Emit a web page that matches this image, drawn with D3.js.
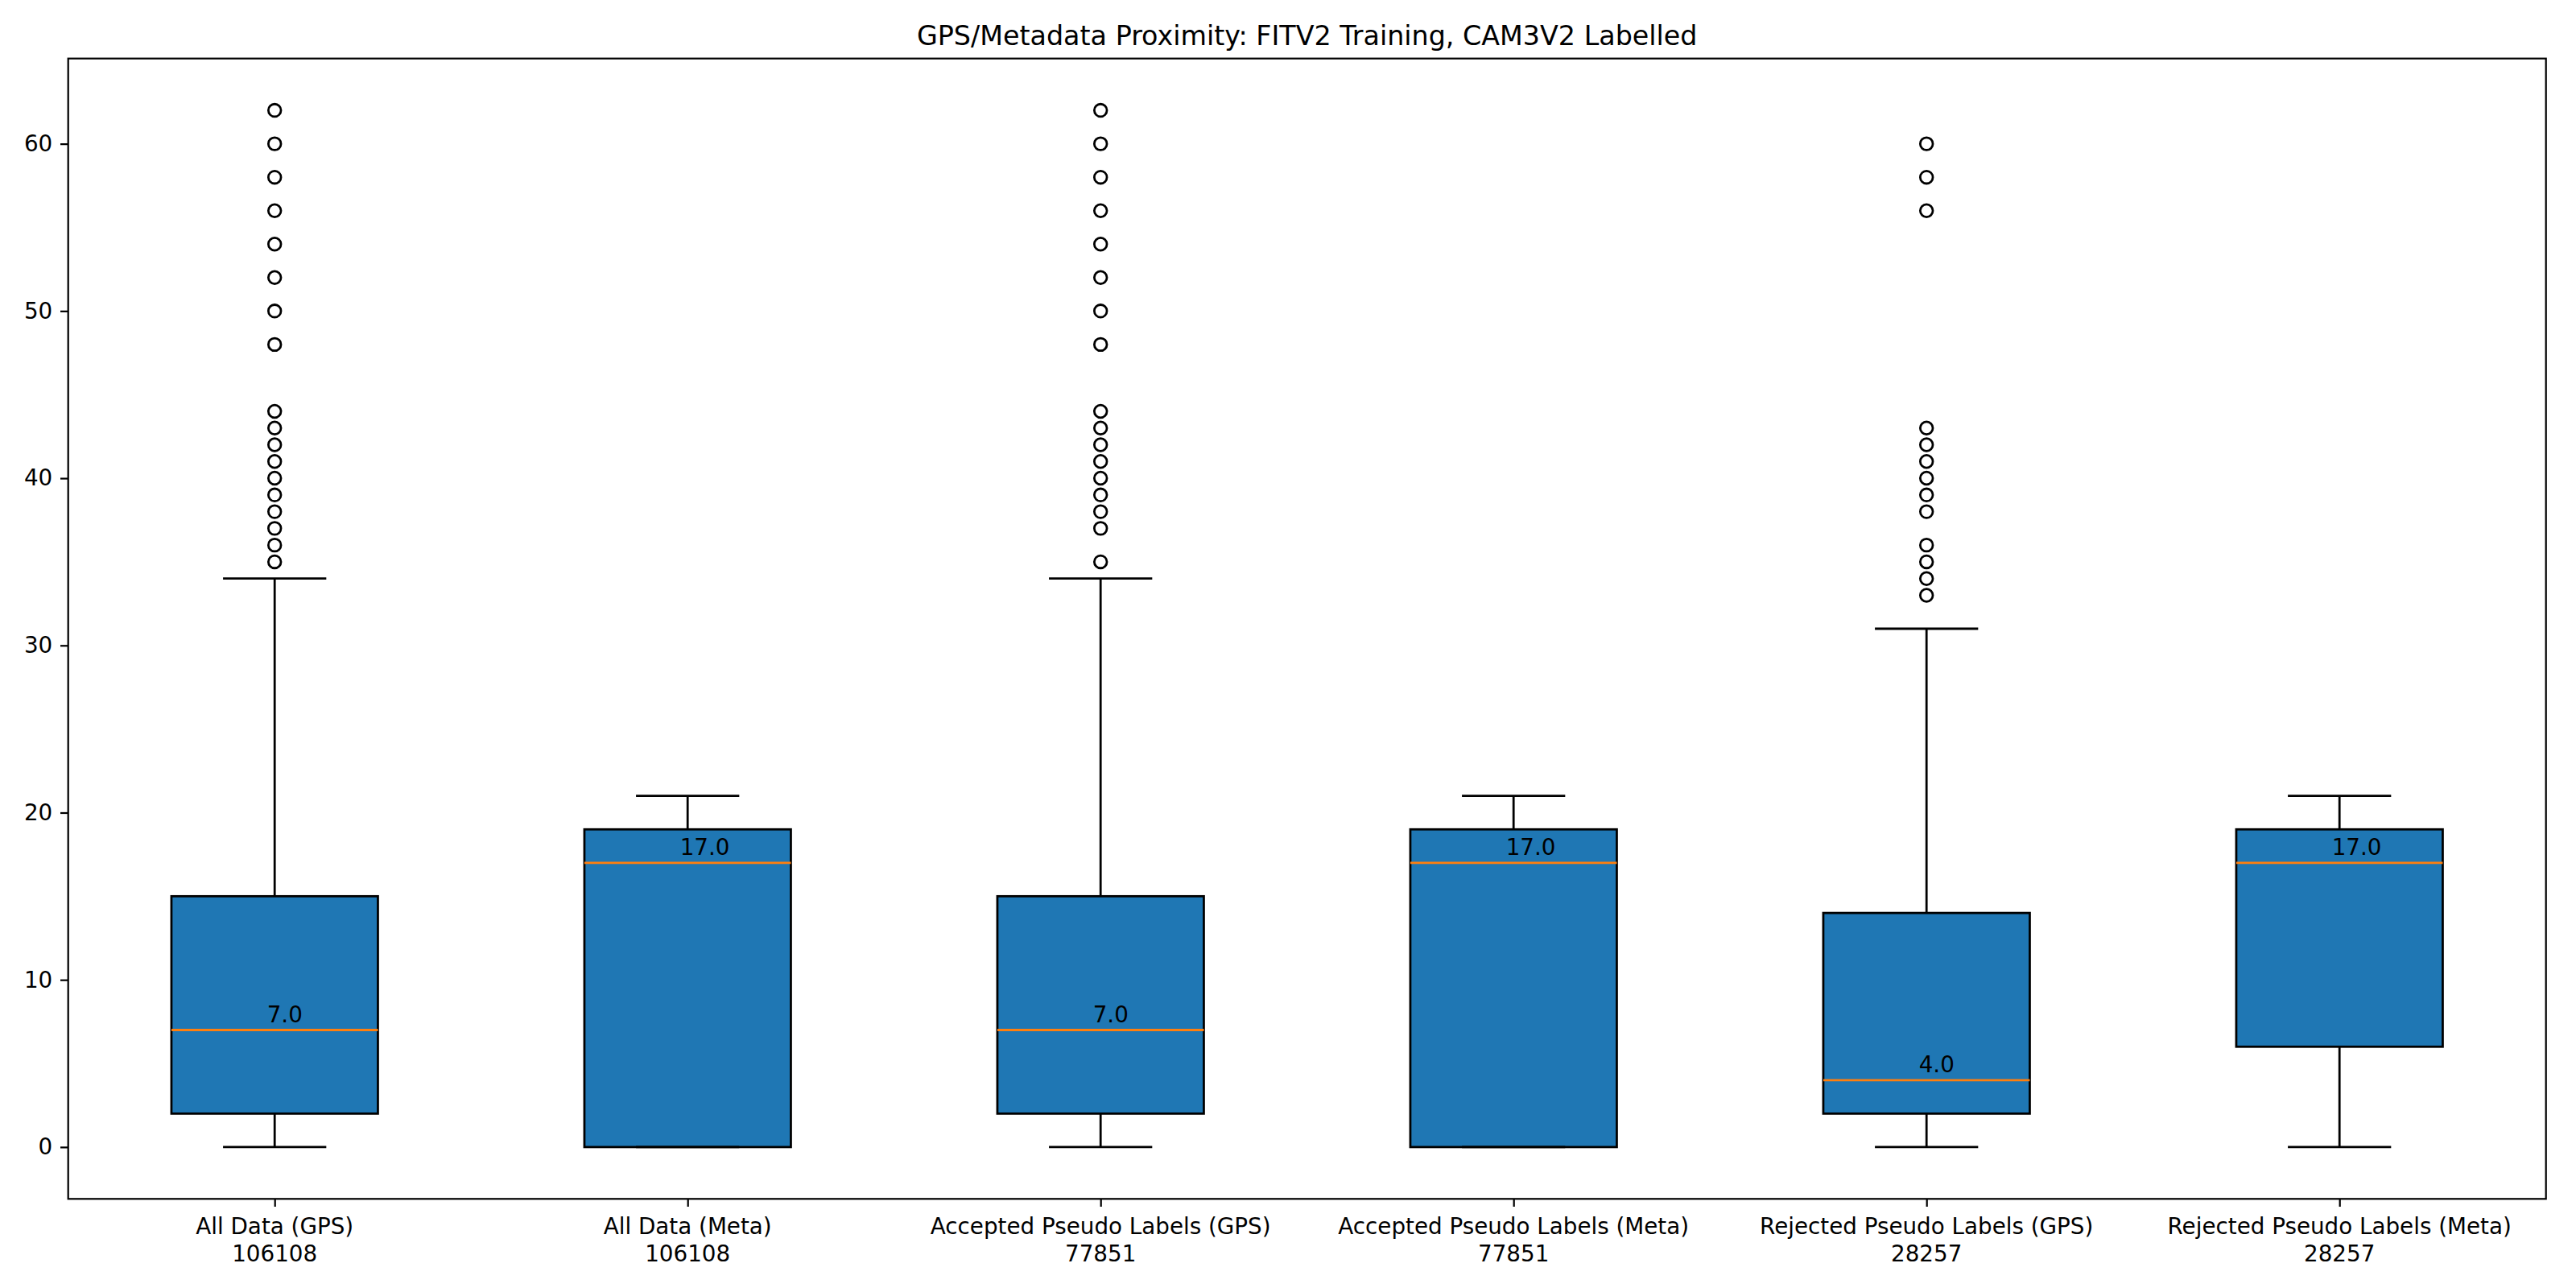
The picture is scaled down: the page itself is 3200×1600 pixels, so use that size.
<!DOCTYPE html>
<html>
<head>
<meta charset="utf-8">
<script src="https://cdn.jsdelivr.net/npm/d3@7"></script>
<style>
    html, body { margin: 0; padding: 0; background: #fff; }
    svg text { font-family: "DejaVu Sans", sans-serif; fill: #000; }
</style>
</head>
<body>
<svg id="chart" width="3200" height="1600"></svg>
<script>
// box plot stats
const categories = [
    'All Data (GPS)', 'All Data (Meta)',
    'Accepted Pseudo Labels (GPS)', 'Accepted Pseudo Labels (Meta)',
    'Rejected Pseudo Labels (GPS)', 'Rejected Pseudo Labels (Meta)'
];
const counts = [106108, 106108, 77851, 77851, 28257, 28257];
const whiskerLow = [0, 0, 0, 0, 0, 0];
const q1 = [2, 0, 2, 0, 2, 6];
const medians = [7, 17, 7, 17, 4, 17];
const q3 = [15, 19, 15, 19, 14, 19];
const whiskerHigh = [34, 21, 34, 21, 31, 21];
const outliers = [
    [35, 36, 37, 38, 39, 40, 41, 42, 43, 44, 48, 50, 52, 54, 56, 58, 60, 62],
    [],
    [35, 37, 38, 39, 40, 41, 42, 43, 44, 48, 50, 52, 54, 56, 58, 60, 62],
    [],
    [33, 34, 35, 36, 38, 39, 40, 41, 42, 43, 56, 58, 60],
    []
];
const yTicks = [0, 10, 20, 30, 40, 50, 60];
const title = 'GPS/Metadata Proximity: FITV2 Training, CAM3V2 Labelled';

const PT = 200 / 72;               // figure rendered at 200 dpi
const plot = { left: 84.7, right: 3162.7, top: 72.7, bottom: 1489.3 };
const fontSize = 10 * PT;

const boxes = categories.map((c, i) => ({
    label: c, count: counts[i], pos: i + 1,
    lo: whiskerLow[i], q1: q1[i], med: medians[i], q3: q3[i], hi: whiskerHigh[i],
    fliers: outliers[i]
}));

const svg = d3.select('#chart');

const x = d3.scaleLinear().domain([0.5, 6.5]).range([plot.left, plot.right]);
const allVals = boxes.flatMap((b) => [b.lo, b.hi, ...b.fliers]);
const yMin = d3.min(allVals), yMax = d3.max(allVals);
const margin = (yMax - yMin) * 0.05;
const y = d3.scaleLinear().domain([yMin - margin, yMax + margin]).range([plot.bottom, plot.top]);

const boxW = 0.5, capW = 0.25;
const lw = 1 * PT;

const g = svg.append('g');

// boxes
g.selectAll('rect.box')
    .data(boxes)
    .join('rect')
    .attr('class', 'box')
    .attr('x', (d) => x(d.pos - boxW / 2))
    .attr('width', (d) => x(d.pos + boxW / 2) - x(d.pos - boxW / 2))
    .attr('y', (d) => y(d.q3))
    .attr('height', (d) => y(d.q1) - y(d.q3))
    .attr('fill', '#1f77b4')
    .attr('stroke', '#000')
    .attr('stroke-width', lw);

// whiskers
const whiskers = boxes.flatMap((b) => [
    { pos: b.pos, from: b.q1, to: b.lo },
    { pos: b.pos, from: b.q3, to: b.hi }
]);
g.selectAll('line.whisker')
    .data(whiskers)
    .join('line')
    .attr('x1', (d) => x(d.pos)).attr('x2', (d) => x(d.pos))
    .attr('y1', (d) => y(d.from)).attr('y2', (d) => y(d.to))
    .attr('stroke', '#000').attr('stroke-width', lw);

// caps
const caps = boxes.flatMap((b) => [{ pos: b.pos, v: b.lo }, { pos: b.pos, v: b.hi }]);
g.selectAll('line.cap')
    .data(caps)
    .join('line')
    .attr('x1', (d) => x(d.pos - capW / 2)).attr('x2', (d) => x(d.pos + capW / 2))
    .attr('y1', (d) => y(d.v)).attr('y2', (d) => y(d.v))
    .attr('stroke', '#000').attr('stroke-width', lw);

// medians
g.selectAll('line.median')
    .data(boxes)
    .join('line')
    .attr('x1', (d) => x(d.pos - boxW / 2)).attr('x2', (d) => x(d.pos + boxW / 2))
    .attr('y1', (d) => y(d.med)).attr('y2', (d) => y(d.med))
    .attr('stroke', '#ff7f0e').attr('stroke-width', lw);

// fliers
const fliers = boxes.flatMap((b) => b.fliers.map((v) => ({ pos: b.pos, v })));
g.selectAll('circle.flier')
    .data(fliers)
    .join('circle')
    .attr('cx', (d) => x(d.pos))
    .attr('cy', (d) => y(d.v))
    .attr('r', 3 * PT - 0.5)
    .attr('fill', 'none')
    .attr('stroke', '#000')
    .attr('stroke-width', lw);

// median labels
g.selectAll('text.medlabel')
    .data(boxes)
    .join('text')
    .attr('x', (d) => x(d.pos) - 9.5)
    .attr('y', (d) => y(d.med) - 10)
    .attr('font-size', fontSize)
    .text((d) => d.med.toFixed(1));

// axes frame
svg.append('rect')
    .attr('x', plot.left).attr('y', plot.top)
    .attr('width', plot.right - plot.left).attr('height', plot.bottom - plot.top)
    .attr('fill', 'none').attr('stroke', '#000').attr('stroke-width', 0.8 * PT);

const tickLen = 3.5 * PT, tickPad = 3.5 * PT;

// y axis
const yAxis = svg.append('g')
    .attr('transform', `translate(${plot.left},0)`)
    .call(d3.axisLeft(y).tickValues(yTicks).tickSize(tickLen).tickPadding(tickPad).tickFormat(d3.format('d')));
yAxis.select('.domain').remove();
yAxis.selectAll('line').attr('stroke', '#000').attr('stroke-width', 0.8 * PT);
yAxis.selectAll('text').attr('font-size', fontSize).attr('font-family', '"DejaVu Sans", sans-serif');

// x axis with two-line labels
const xAxis = svg.append('g')
    .attr('transform', `translate(0,${plot.bottom})`)
    .call(d3.axisBottom(x).tickValues(boxes.map((b) => b.pos)).tickSize(tickLen).tickPadding(tickPad).tickFormat(''));
xAxis.select('.domain').remove();
xAxis.selectAll('line').attr('stroke', '#000').attr('stroke-width', 0.8 * PT);
xAxis.selectAll('.tick text').remove();
const xl = xAxis.selectAll('text.xlabel')
    .data(boxes)
    .join('text')
    .attr('class', 'xlabel')
    .attr('text-anchor', 'middle')
    .attr('font-size', fontSize)
    .attr('x', (d) => x(d.pos))
    .attr('y', tickLen + tickPad + 24.5);
xl.append('tspan').attr('x', (d) => x(d.pos)).text((d) => d.label);
xl.append('tspan').attr('x', (d) => x(d.pos)).attr('dy', 1.2 * fontSize).text((d) => d.count);

// title
svg.append('text')
    .attr('x', (plot.left + plot.right) / 2)
    .attr('y', plot.top - 6 * PT - 0.5)
    .attr('text-anchor', 'middle')
    .attr('font-size', 12 * PT)
    .text(title);
</script>
</body>
</html>
